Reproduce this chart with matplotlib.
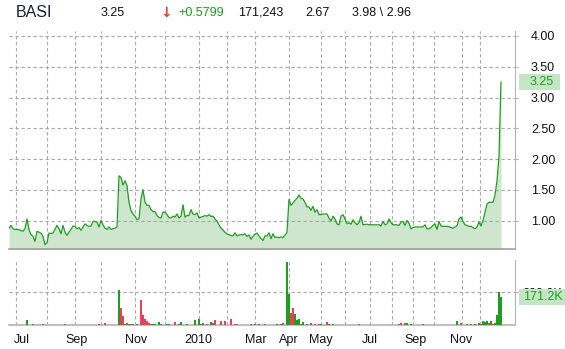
import numpy as np
import matplotlib
matplotlib.use("Agg")
import matplotlib.pyplot as plt
from matplotlib.patches import Rectangle
from matplotlib.transforms import blended_transform_factory

plt.rcParams['font.family'] = ['Liberation Sans', 'DejaVu Sans']

# --- data (one value per ~trading-day slot, Jul 2009 .. Dec 2010) ---
price = [
    0.88, 0.925, 0.87, 0.86, 0.86, 0.855, 0.84, 0.83, 0.87, 1.03,
    0.86, 0.775, 0.75, 0.665, 0.83, 0.815, 0.80, 0.75, 0.61, 0.645,
    0.80, 0.795, 0.80, 0.86, 0.925, 0.87, 0.79, 0.925, 0.815, 0.765,
    0.815, 0.86, 0.915, 0.91, 0.87, 0.89, 0.845, 0.90, 0.95, 0.925,
    0.91, 0.915, 0.99, 0.99, 0.98, 0.90, 1.005, 0.935, 0.88, 0.86,
    0.90, 0.86, 0.87, 0.88, 0.90, 1.73, 1.705, 1.58, 1.65, 1.57,
    1.30, 1.165, 1.11, 1.075, 1.02, 1.03, 1.355, 1.505, 1.30, 1.25,
    1.25, 1.18, 1.15, 1.15, 1.085, 1.055, 1.045, 1.14, 1.14, 1.10,
    1.05,
    1.045, 1.075, 1.06, 1.11, 1.045, 1.075, 1.26, 1.06, 1.085, 1.085,
    1.18, 1.11, 1.10, 1.13, 1.045, 1.06, 1.07, 1.085, 1.075, 1.10,
    1.07, 1.075, 1.03, 0.995, 0.935, 0.88, 0.85, 0.815, 0.785, 0.775,
    0.76, 0.755, 0.805, 0.755, 0.77, 0.775, 0.77, 0.79, 0.745, 0.77,
    0.70, 0.745, 0.785, 0.80, 0.755, 0.71, 0.68, 0.755, 0.755, 0.805,
    0.71, 0.79, 0.73, 0.735, 0.725, 0.74, 0.725, 0.765, 0.815, 1.345,
    1.25, 1.29, 1.33, 1.365, 1.42, 1.365, 1.355, 1.30, 1.225, 1.225,
    1.17, 1.235, 1.14, 1.18, 1.10, 1.10, 1.11, 1.11, 1.11, 1.045,
    0.995, 1.075,
    1.03, 0.95, 0.935, 1.075, 1.10, 1.03, 0.95, 0.97, 0.945, 1.015,
    0.97, 0.935, 0.97, 1.075, 0.935, 0.94, 0.945, 0.935, 0.935, 0.935,
    0.935, 0.935, 0.935, 0.915, 0.99, 0.935, 0.95, 1.03, 0.97, 0.935,
    0.935, 0.935, 0.925, 0.98, 0.99, 0.925, 1.005, 0.96, 0.87, 0.89,
    0.90, 0.90, 0.90, 0.90, 0.90, 0.935, 0.87, 0.87, 0.89, 0.925,
    0.95, 0.86, 0.99, 0.915, 0.91, 0.91, 0.91, 0.905, 0.89, 0.88,
    0.90, 0.92, 1.03, 1.06, 0.99, 0.935, 0.925, 0.91, 0.91, 0.89,
    0.87, 0.90, 0.98, 0.915, 1.005, 1.14, 1.27, 1.30, 1.30, 1.30,
    1.42, 1.65, 2.05, 3.25,
]

# volume in thousands
volume = [
    3, 2, 0, 0, 0, 0, 0, 0, 0, 32,
    0, 3, 8, 0, 0, 0, 3, 8, 3, 0,
    2, 2, 3, 0, 0, 2, 0, 3, 8, 2,
    3, 4, 3, 0, 0, 2, 2, 2, 0, 2,
    2, 3, 0, 2, 3, 8, 2, 3, 14, 3,
    3, 2, 3, 2, 3, 214, 105, 55, 8, 14,
    6, 8, 8, 4, 8, 3, 156, 65, 38, 28,
    14, 8, 8, 6, 4, 20, 8, 4, 4, 8,
    6, 4, 4, 20, 4, 8, 20, 4, 3, 8,
    4, 3, 3, 32, 4, 38, 8, 14, 4, 8,
    4, 20, 14, 32, 4, 3, 26, 4, 26, 4,
    3, 38, 4, 8, 8, 2, 2, 2, 4, 0,
    2, 8, 0, 8, 3, 8, 2, 3, 8, 2,
    2, 2, 2, 2, 8, 2, 8, 14, 3, 384,
    190, 75, 105, 69, 32, 38, 8, 20, 4, 8,
    3, 14, 4, 8, 3, 8, 8, 3, 2, 20,
    8, 2, 8, 2, 0, 0, 2, 0, 0, 0,
    0, 0, 0, 0, 0, 8, 0, 0, 2, 0,
    0, 0, 0, 0, 0, 2, 0, 0, 0, 0,
    0, 2, 0, 0, 3, 8, 12, 3, 14, 14,
    2, 8, 0, 0, 0, 0, 2, 8, 2, 0,
    0, 0, 0, 0, 0, 0, 2, 0, 0, 0,
    0, 2, 0, 0, 26, 3, 14, 3, 2, 8,
    3, 8, 3, 8, 3, 14, 8, 26, 20, 26,
    12, 26, 8, 14, 65, 200, 171.243,
]

# days that closed below their open (red volume bars)
down_days = [12, 17, 28, 45, 48, 56, 57, 59, 62, 66, 67, 68, 69, 70, 71, 76,
             83, 96, 99, 102, 103, 106, 108, 111, 113, 114, 121, 128, 137,
             141, 142, 146, 151, 153, 155, 159, 175, 195, 196, 198, 226, 231,
             236, 240, 242]

# month boundaries (slot index) and labelled months
month_idx = [3.5, 19, 33, 46, 63, 78, 95, 109, 123, 140, 156, 168, 180.5,
             191.5, 202, 212.5, 226.5, 235.5]
label_idx = [6.5, 34, 63.5, 94.5, 123.5, 140, 156, 180.5, 203.5, 226]
label_txt = ['Jul', 'Sep', 'Nov', '2010', 'Mar', 'Apr', 'May', 'Jul', 'Sep', 'Nov']

price_ticks = [1.0, 1.5, 2.0, 2.5, 3.0, 3.5, 4.0]

header = [('BASI', 16, 11.5, '#1c1c38'), ('3.25', 101, 9, '#111111'),
          ('+0.5799', 178, 9, '#1a9a1a'),
          ('171,243', 238, 9, '#111111'), ('2.67', 305, 9, '#111111'),
          ('3.98 \\ 2.96', 352, 9, '#111111')]

GREEN = '#1e9e1e'
FILL = '#cde6cd'
RED = '#e8405a'
GRID = '#a8a8a8'
SPINE = '#b4b4b4'
W, H = 565, 349
dash = (0, (3.0, 2.4))

fig = plt.figure(figsize=(W / 100, H / 100), dpi=100)
ax = fig.add_axes([9 / W, 1 - 249 / H, 506 / W, 218 / H])
axv = fig.add_axes([9 / W, 1 - 325.3 / H, 506 / W, 65.3 / H])

x = np.arange(len(price))

# --- price panel ---
ax.fill_between(x, price, 0, color=FILL, lw=0, zorder=1)
ax.plot(x, price, color=GREEN, lw=0.9, zorder=3)
ax.set_xlim(0, 253)
ax.set_ylim(0.542, 4.081)
ax.set_yticks(price_ticks)
ax.set_yticklabels([f'{t:.2f}' for t in price_ticks])
ax.yaxis.tick_right()
ax.tick_params(axis='y', labelsize=9, colors=SPINE, labelcolor='#111111',
               length=2.5, pad=9)
ax.set_xticks([])
ax.grid(axis='y', ls=dash, color=GRID, lw=0.8, zorder=0)
for m in month_idx:
    ax.axvline(m, ls=dash, color=GRID, lw=0.8, zorder=0)
for s in ['top', 'left']:
    ax.spines[s].set_visible(False)
ax.spines['right'].set_color(SPINE)
ax.spines['bottom'].set_color('#a0a0a0')
ax.spines['bottom'].set_linewidth(1.2)

# --- volume panel ---
colors = [RED if i in down_days else GREEN for i in range(len(volume))]
axv.bar(x, volume, width=0.6, color=colors, lw=0, zorder=3)
axv.set_xlim(0, 253)
axv.set_ylim(0, 396)
axv.set_yticks([200])
axv.set_yticklabels(['200.0K'])
axv.yaxis.tick_right()
axv.tick_params(axis='y', labelsize=9, colors=SPINE, labelcolor='#111111',
                length=2.5, pad=3)
axv.set_xticks(label_idx)
axv.set_xticklabels(label_txt)
axv.tick_params(axis='x', labelsize=9, length=0, pad=6, labelcolor='#111111')
axv.grid(axis='y', ls=dash, color=GRID, lw=0.8, zorder=0)
for m in month_idx:
    axv.axvline(m, ls=dash, color=GRID, lw=0.8, zorder=0)
for s in ['top', 'left']:
    axv.spines[s].set_visible(False)
axv.spines['right'].set_color(SPINE)
axv.spines['bottom'].set_color(SPINE)
axv.spines['bottom'].set_linewidth(1.2)

# --- last value tags ---
tr = blended_transform_factory(fig.transFigure, ax.transData)
ax.add_patch(Rectangle((519 / W, price[-1] - 0.13), 41 / W, 0.26, transform=tr,
                       fc='#c6e4c6', ec='none', clip_on=False, zorder=5))
ax.text(530 / W, price[-1], f'{price[-1]:.2f}', transform=tr, color=GREEN,
        fontsize=9, va='center', ha='left', zorder=6, clip_on=False)

trv = blended_transform_factory(fig.transFigure, axv.transData)
axv.add_patch(Rectangle((519 / W, volume[-1] - 48), 46 / W, 97, transform=trv,
                        fc='#c6e4c6', ec='none', clip_on=False, zorder=5))
axv.text(523 / W, volume[-1], f'{volume[-1]:.1f}K', transform=trv, color=GREEN,
         fontsize=9, va='center', ha='left', zorder=6, clip_on=False)

# --- header line ---
for txt, px, fs, col in header:
    fig.text(px / W, 1 - 12.5 / H, txt, fontsize=fs, color=col,
             va='center', ha='left')
fig.text(160 / W, 1 - 12.5 / H, '\u2193', fontsize=10, color='#e0403c',
         family='DejaVu Sans', fontweight='bold', va='center', ha='left')

fig.savefig('out.png', dpi=100)
